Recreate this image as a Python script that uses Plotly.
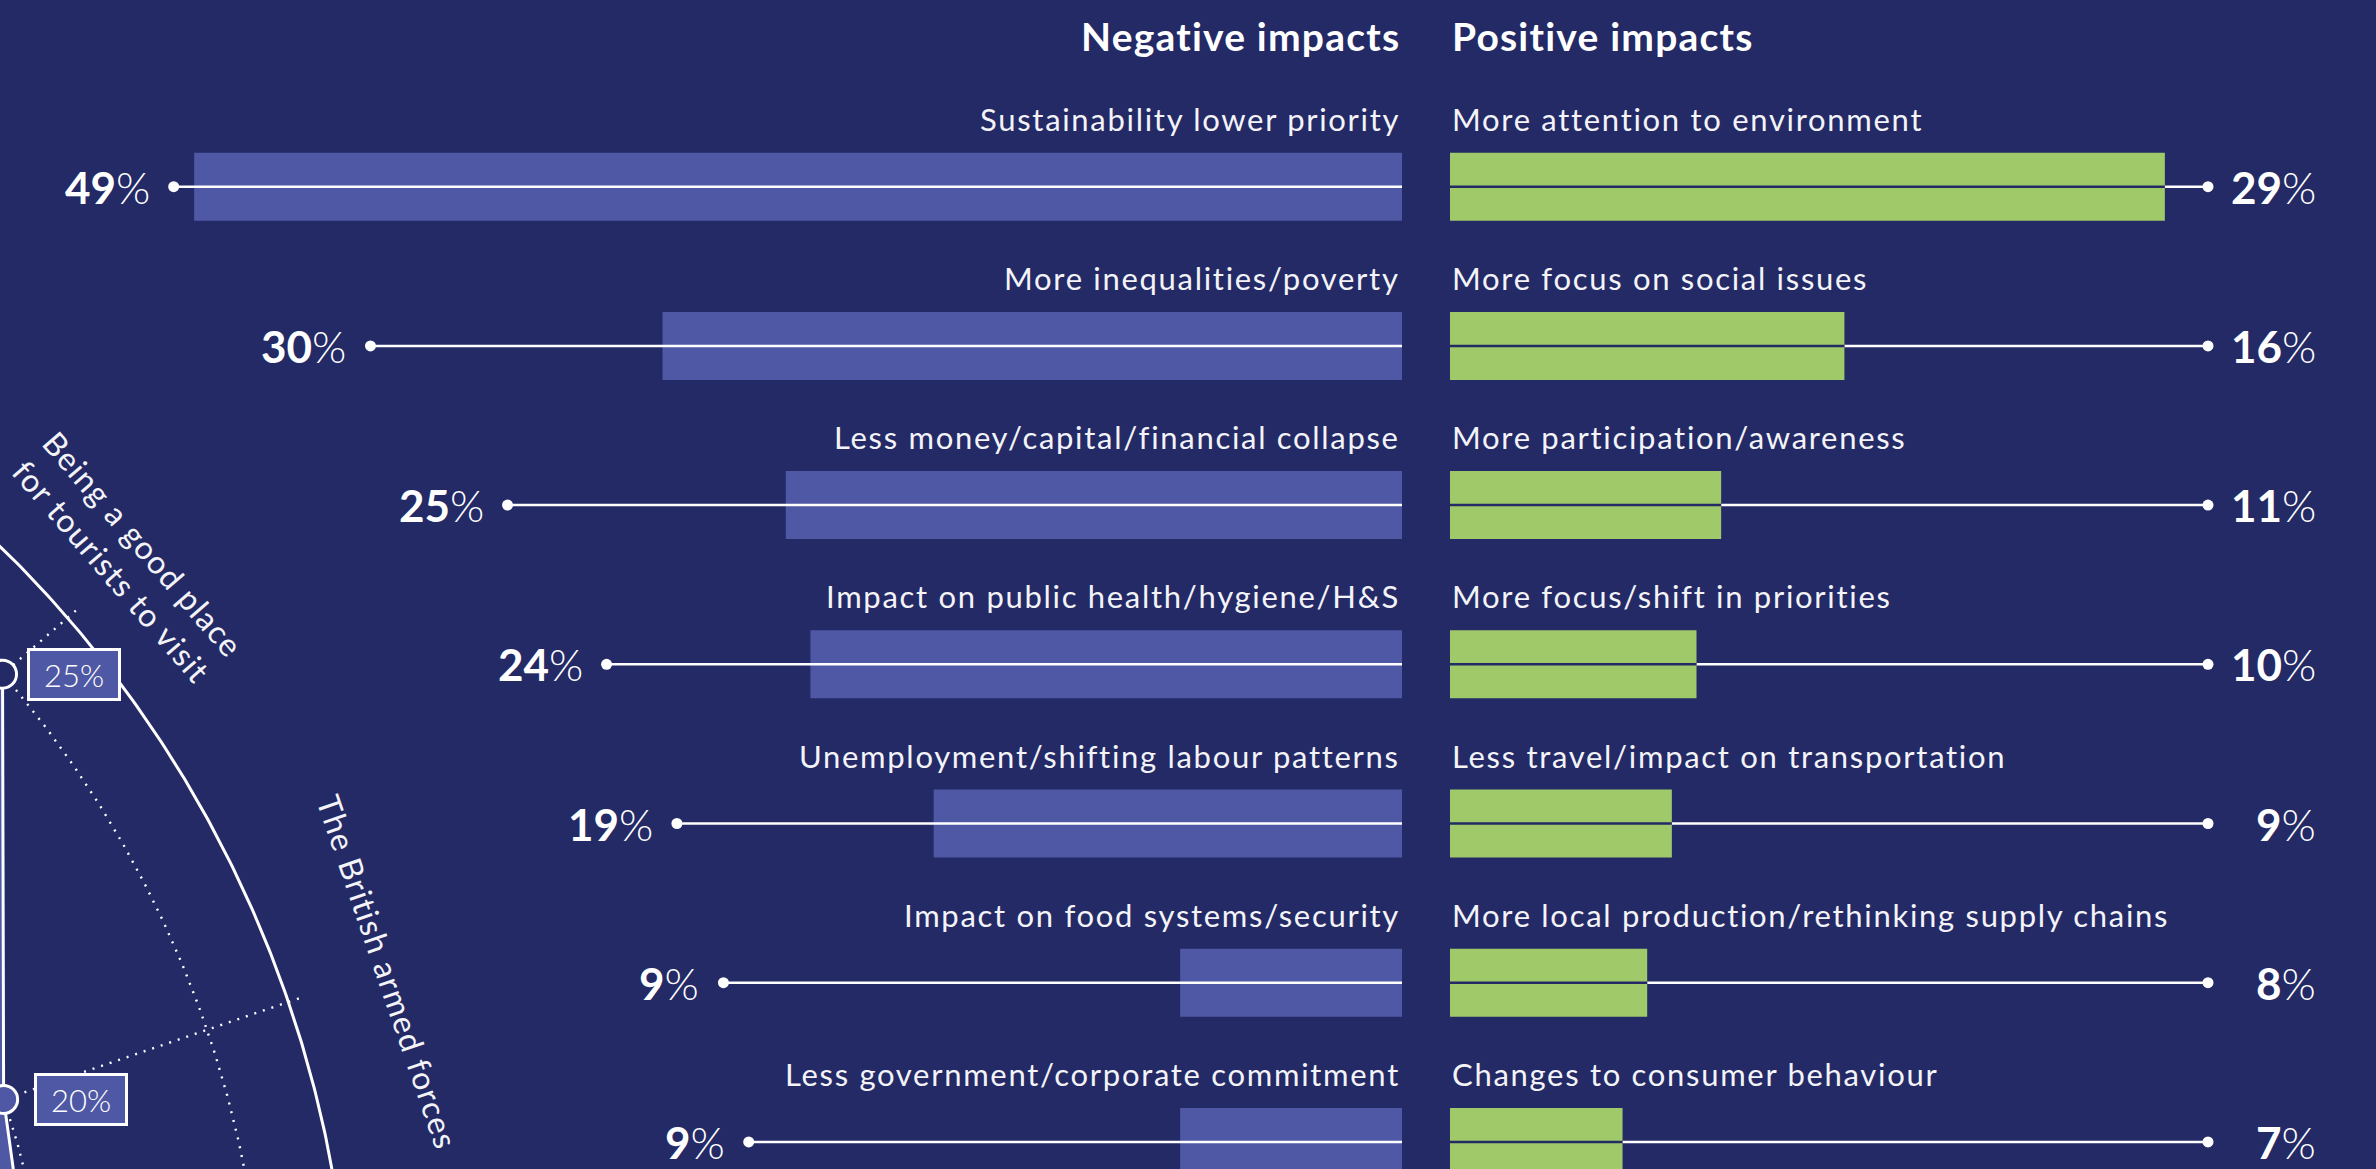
import numpy as np
import plotly.graph_objects as go

# ---------------- data ----------------
neg_labels = [
    "Sustainability lower priority",
    "More inequalities/poverty",
    "Less money/capital/financial collapse",
    "Impact on public health/hygiene/H&S",
    "Unemployment/shifting labour patterns",
    "Impact on food systems/security",
    "Less government/corporate commitment",
]
neg_values = [49, 30, 25, 24, 19, 9, 9]

pos_labels = [
    "More attention to environment",
    "More focus on social issues",
    "More participation/awareness",
    "More focus/shift in priorities",
    "Less travel/impact on transportation",
    "More local production/rethinking supply chains",
    "Changes to consumer behaviour",
]
pos_values = [29, 16, 11, 10, 9, 8, 7]

headings = ["Negative impacts", "Positive impacts"]

# cropped radar chart on the left
radar_labels = ["Being a good place<br>for tourists to visit", "The British armed forces"]
radar_values = [25, 20]
radar_edge_values = [22, 20]   # neighbouring points whose labels are cropped away
radar_rings = [20, 25]

# ---------------- style / layout constants ----------------
W, H = 2376, 1169
BG = "#232a66"
BLUE = "#4f58a4"
GREEN = "#a0ca6a"
WHITE = "#ffffff"
TXT = "#f4f4f8"
FONT = "Lato"

PX_PER_PCT = 24.65
NEG_EDGE = 1402
POS_EDGE = 1450
ROW0 = 186.7
PITCH = 159.2
BAR_H = 68
POS_DOT_PX = 2208
POS_LABEL_RIGHT = 2318
DOT_ARC_C = (-535.0, 1264.0)
DOT_ARC_R = 1289.5

RADAR_C = (-810.0, 1378.0)
RADAR_PX_PER_PCT = 43.0
RADAR_OUTER = 1161.0
RADAR_ANGLES = [40.9, 18.9]
RADAR_STEP = 22.0
RADAR_LABEL_POS = [(1246, 41.2), (1265, 18.7)]


def ydata(px):
    return (px - ROW0) / PITCH


def spaced(s, ls):
    return f'<span style="letter-spacing:{ls}px">{s}</span>'


n = len(neg_values)
idx = list(range(n))
row_px = [ROW0 + PITCH * i for i in idx]

# negative dot positions follow a large arc
neg_dot_px = [DOT_ARC_C[0] + np.sqrt(DOT_ARC_R ** 2 - (py - DOT_ARC_C[1]) ** 2) for py in row_px]
neg_dot = [(NEG_EDGE - px) / PX_PER_PCT for px in neg_dot_px]
pos_dot = (POS_DOT_PX - POS_EDGE) / PX_PER_PCT

fig = go.Figure()

# ---------------- radar fragment (pixel overlay axes) ----------------
cx, cy = RADAR_C


def polar(r, ang):
    a = np.deg2rad(ang)
    return cx + r * np.cos(a), cy - r * np.sin(a)


th = np.linspace(-15, 95, 400)
poly_vals = [radar_edge_values[0]] + radar_values + [radar_edge_values[1]]
poly_angs = [RADAR_ANGLES[0] + RADAR_STEP] + RADAR_ANGLES + [RADAR_ANGLES[1] - RADAR_STEP]
px_, py_ = polar(np.array(poly_vals) * RADAR_PX_PER_PCT, np.array(poly_angs))
fig.add_trace(go.Scatter(x=[cx] + list(px_) + [cx], y=[cy] + list(py_) + [cy],
                         mode="lines", fill="toself", fillcolor=BLUE,
                         line=dict(color="rgba(0,0,0,0)", width=0),
                         xaxis="x3", yaxis="y3", hoverinfo="skip"))
ax_, ay_ = polar(RADAR_OUTER, th)
fig.add_trace(go.Scatter(x=ax_, y=ay_, mode="lines", line=dict(color=WHITE, width=3),
                         xaxis="x3", yaxis="y3", hoverinfo="skip"))
for v in radar_rings:
    rx, ry = polar(v * RADAR_PX_PER_PCT, th)
    fig.add_trace(go.Scatter(x=rx, y=ry, mode="lines",
                             line=dict(color=WHITE, width=2.4, dash="2px,7px"),
                             xaxis="x3", yaxis="y3", hoverinfo="skip"))
for a in RADAR_ANGLES:
    sx, sy = polar(np.array([0, RADAR_OUTER + 15]), a)
    fig.add_trace(go.Scatter(x=sx, y=sy, mode="lines",
                             line=dict(color=WHITE, width=2.4, dash="2px,7px"),
                             xaxis="x3", yaxis="y3", hoverinfo="skip"))
fig.add_trace(go.Scatter(x=px_, y=py_, mode="lines", line=dict(color=WHITE, width=3),
                         xaxis="x3", yaxis="y3", hoverinfo="skip"))
mx, my = polar(np.array(radar_values) * RADAR_PX_PER_PCT, np.array(RADAR_ANGLES))
fig.add_trace(go.Scatter(x=mx, y=my, mode="markers",
                         marker=dict(size=28, color=[BG, BLUE], line=dict(color=WHITE, width=3)),
                         xaxis="x3", yaxis="y3", hoverinfo="skip"))

# ---------------- diverging bars ----------------
fig.add_trace(go.Bar(x=neg_values, y=idx, orientation="h", width=BAR_H / PITCH,
                     marker=dict(color=BLUE, line=dict(width=0)),
                     xaxis="x", yaxis="y", hoverinfo="skip"))
fig.add_trace(go.Bar(x=pos_values, y=idx, orientation="h", width=BAR_H / PITCH,
                     marker=dict(color=GREEN, line=dict(width=0)),
                     xaxis="x2", yaxis="y", hoverinfo="skip"))

lx, ly = [], []
for i in idx:
    lx += [0, neg_dot[i], None]
    ly += [i, i, None]
fig.add_trace(go.Scatter(x=lx, y=ly, mode="lines", line=dict(color=WHITE, width=2.5),
                         xaxis="x", yaxis="y", hoverinfo="skip"))
fig.add_trace(go.Scatter(x=neg_dot, y=idx, mode="markers",
                         marker=dict(color=WHITE, size=11, line=dict(width=0)),
                         xaxis="x", yaxis="y", hoverinfo="skip"))

wx, wy, dx, dy = [], [], [], []
for i in idx:
    wx += [pos_values[i], pos_dot, None]
    wy += [i, i, None]
    dx += [0, pos_values[i], None]
    dy += [i, i, None]
fig.add_trace(go.Scatter(x=wx, y=wy, mode="lines", line=dict(color=WHITE, width=2.5),
                         xaxis="x2", yaxis="y", hoverinfo="skip"))
fig.add_trace(go.Scatter(x=dx, y=dy, mode="lines", line=dict(color=BG, width=2.5),
                         xaxis="x2", yaxis="y", hoverinfo="skip"))
fig.add_trace(go.Scatter(x=[pos_dot] * n, y=idx, mode="markers",
                         marker=dict(color=WHITE, size=11, line=dict(width=0)),
                         xaxis="x2", yaxis="y", hoverinfo="skip"))

annotations = []
for i, v in enumerate(radar_values):
    annotations.append(dict(x=mx[i], y=my[i], xref="x3", yref="y3", text=f"{v}%",
                            showarrow=False, xanchor="left", yanchor="middle",
                            xshift=24 + 6 * i, width=88, height=47,
                            bgcolor=BLUE, bordercolor=WHITE, borderwidth=3, borderpad=0,
                            font=dict(family=FONT, size=31, color=WHITE, weight=300)))
for i, lab in enumerate(radar_labels):
    lr, la = RADAR_LABEL_POS[i]
    lxp, lyp = polar(lr, la)
    annotations.append(dict(x=lxp, y=lyp, xref="x3", yref="y3", text=spaced(lab, 1.2),
                            showarrow=False, xanchor="center", yanchor="middle",
                            textangle=90 - RADAR_ANGLES[i], align="center",
                            font=dict(family=FONT, size=32, color=TXT)))

annotations.append(dict(x=0, y=ydata(36), xref="x", yref="y", text=spaced(f"<b>{headings[0]}</b>", 1.2),
                        showarrow=False, xanchor="right", yanchor="middle",
                        font=dict(family=FONT, size=39, color=WHITE)))
annotations.append(dict(x=0, y=ydata(36), xref="x2", yref="y", text=spaced(f"<b>{headings[1]}</b>", 1.2),
                        showarrow=False, xanchor="left", yanchor="middle",
                        font=dict(family=FONT, size=39, color=WHITE)))

for i in idx:
    annotations.append(dict(x=0, y=i - BAR_H / PITCH, xref="x", yref="y",
                            text=spaced(neg_labels[i], 1.7),
                            showarrow=False, xanchor="right", yanchor="middle",
                            font=dict(family=FONT, size=31, color=TXT)))
    annotations.append(dict(x=0, y=i - BAR_H / PITCH, xref="x2", yref="y",
                            text=spaced(pos_labels[i], 1.7),
                            showarrow=False, xanchor="left", yanchor="middle",
                            font=dict(family=FONT, size=31, color=TXT)))
    annotations.append(dict(x=(NEG_EDGE - neg_dot_px[i] + 22) / PX_PER_PCT, y=i, xref="x", yref="y",
                            text=f'<b>{neg_values[i]}</b><span style="font-weight:300">%</span>',
                            showarrow=False, xanchor="right", yanchor="middle",
                            font=dict(family=FONT, size=44, color=WHITE)))
    annotations.append(dict(x=(POS_LABEL_RIGHT - POS_EDGE) / PX_PER_PCT, y=i, xref="x2", yref="y",
                            text=f'<b>{pos_values[i]}</b><span style="font-weight:300">%</span>',
                            showarrow=False, xanchor="right", yanchor="middle",
                            font=dict(family=FONT, size=44, color=WHITE)))

hide = dict(visible=False, showgrid=False, zeroline=False, fixedrange=True)
fig.update_layout(
    width=W, height=H,
    margin=dict(l=0, r=0, t=0, b=0),
    paper_bgcolor=BG, plot_bgcolor="rgba(0,0,0,0)",
    showlegend=False,
    barmode="overlay",
    xaxis=dict(domain=[0, NEG_EDGE / W], range=[NEG_EDGE / PX_PER_PCT, 0], anchor="y", **hide),
    xaxis2=dict(domain=[POS_EDGE / W, 1], range=[0, (W - POS_EDGE) / PX_PER_PCT], anchor="y", **hide),
    yaxis=dict(domain=[0, 1], range=[ydata(H), ydata(0)], anchor="x", **hide),
    xaxis3=dict(domain=[0, 1], range=[0, W], anchor="y3", **hide),
    yaxis3=dict(domain=[0, 1], range=[H, 0], anchor="x3", **hide),
    annotations=annotations,
)

fig.write_html("out.html")
